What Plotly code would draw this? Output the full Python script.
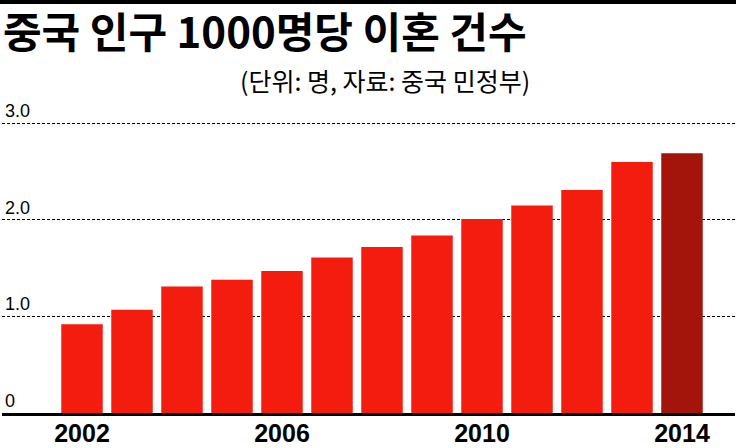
import plotly.graph_objects as go

# divorces per 1000 people in China
years = [2002, 2003, 2004, 2005, 2006, 2007, 2008, 2009, 2010, 2011, 2012, 2013, 2014]
divorce_rate = [0.92, 1.07, 1.31, 1.38, 1.47, 1.61, 1.72, 1.84, 2.01, 2.15, 2.31, 2.60, 2.69]
bar_colors = ['#F41B0F'] * 12 + ['#A3150B']

y_ticks = [0, 1, 2, 3]
y_tick_text = ['0', '1.0', '2.0', '3.0']
x_ticks = [2002, 2006, 2010, 2014]

title_text = '중국 인구 1000명당 이혼 건수'
subtitle_text = '(단위: 명, 자료: 중국 민정부)'

fig = go.Figure(go.Bar(x=years, y=divorce_rate, marker_color=bar_colors, width=0.83, marker_line_width=0))

fig.update_layout(
    width=736, height=448,
    margin=dict(l=2, r=1, t=100, b=35),
    plot_bgcolor='white', paper_bgcolor='white',
    showlegend=False,
    title=dict(text=title_text, x=0.004, xanchor='left', xref='container',
               y=0.958, yanchor='top', yref='container',
               font=dict(family='Noto Sans CJK KR', size=42, color='black', weight=700)),
)

fig.update_xaxes(range=[2000.4, 2015.06], tickvals=x_ticks, showgrid=False, automargin=False,
                 showline=True, linecolor='black', linewidth=3,
                 ticks='', ticklen=0, ticklabelstandoff=-4,
                 tickfont=dict(family='Liberation Sans', size=25, color='black', weight=700))

fig.update_yaxes(range=[0, 3.243], tickvals=y_ticks, ticktext=y_tick_text, automargin=False,
                 ticklabelposition='inside top', showgrid=True, gridcolor='black',
                 gridwidth=1, griddash='3px,2px', zeroline=False,
                 tickfont=dict(family='Liberation Sans', size=18, color='black'))

# thick rule at the top of the graphic
fig.add_shape(type='rect', xref='paper', yref='paper', x0=-0.01, x1=1.01, y0=1.3067, y1=1.33,
              fillcolor='black', line_width=0)

fig.add_annotation(text=subtitle_text, xref='paper', yref='paper', x=0.723, y=1.065,
                   xanchor='right', yanchor='middle', showarrow=False,
                   font=dict(family='Noto Sans CJK KR', size=25, color='black'))

# drop the page's default body margin so the figure sits at the window corner
fig.write_html('out.html', config={'displayModeBar': False},
               post_script="document.body.style.margin='0';")
